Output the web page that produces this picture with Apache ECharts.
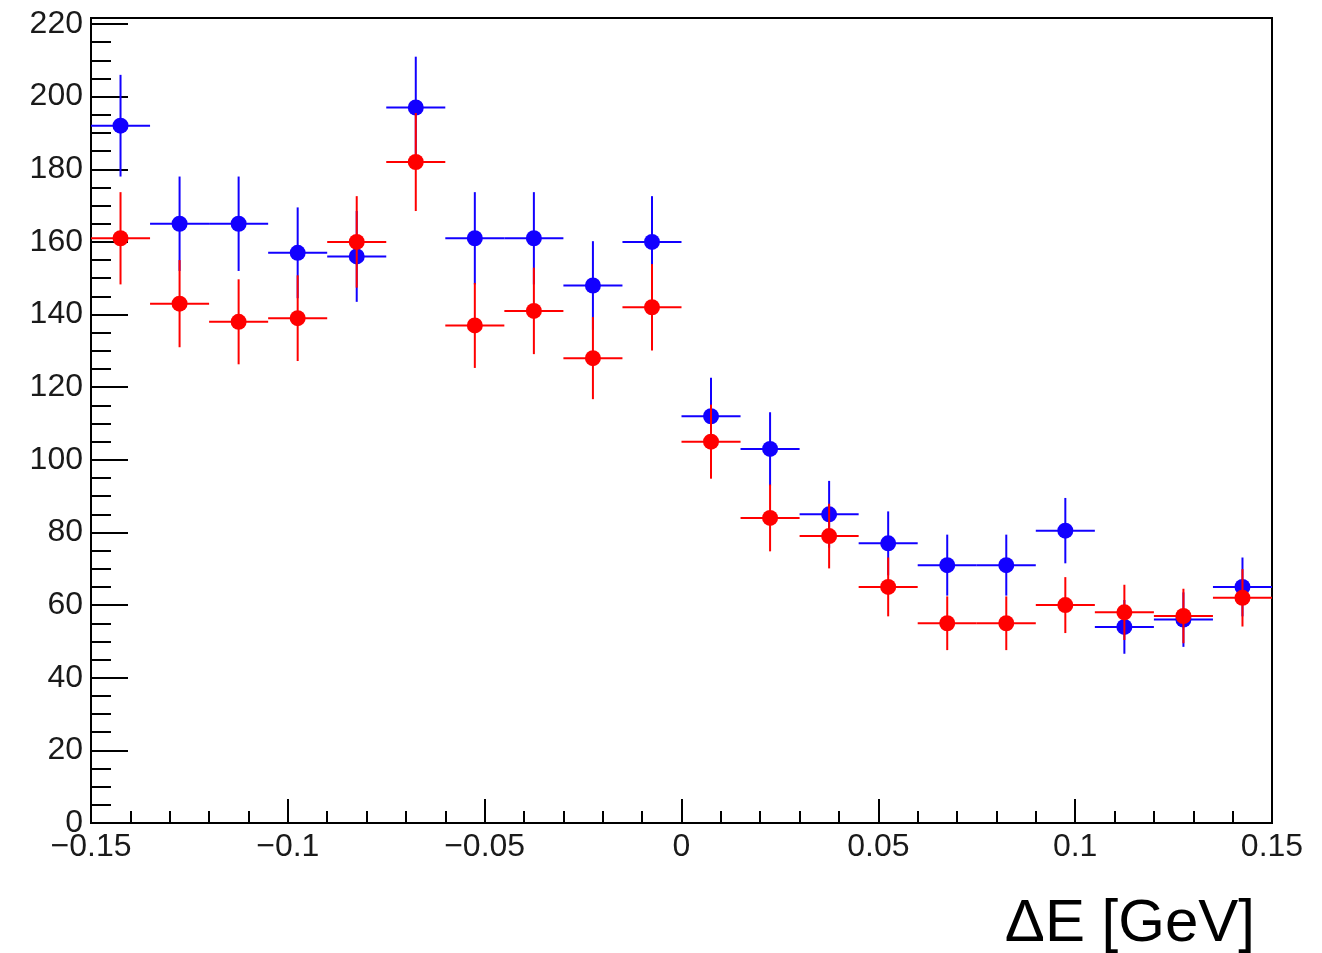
<!DOCTYPE html>
<html>
<head>
<meta charset="utf-8">
<script src="https://cdn.jsdelivr.net/npm/echarts@6/dist/echarts.min.js"></script>
<style>
html,body{margin:0;padding:0;background:#fff;}
#chart{width:1322px;height:953px;}
</style>
</head>
<body>
<div id="chart"></div>
<script>
// ---- data ----
const binCenters = [-0.1425, -0.1275, -0.1125, -0.0975, -0.0825, -0.0675, -0.0525, -0.0375, -0.0225, -0.0075,
                     0.0075,  0.0225,  0.0375,  0.0525,  0.0675,  0.0825,  0.0975,  0.1125,  0.1275,  0.1425];
const binWidth = 0.015;
const blueValues = [192, 165, 165, 157, 156, 197, 161, 161, 148, 160, 112, 103, 85, 77, 71, 71, 80.5, 54, 56, 65];
const blueErrors = [14, 13, 13, 12.5, 12.5, 14, 12.7, 12.7, 12.2, 12.6, 10.6, 10.1, 9.2, 8.8, 8.4, 8.4, 9, 7.4, 7.5, 8.1];
const redValues  = [161, 143, 138, 139, 160, 182, 137, 141, 128, 142, 105, 84, 79, 65, 55, 55, 60, 58, 57, 62];
const redErrors  = [12.7, 12, 11.7, 11.8, 12.6, 13.5, 11.7, 11.9, 11.3, 11.9, 10.2, 9.2, 8.9, 8.1, 7.4, 7.4, 7.7, 7.6, 7.5, 7.9];
const xTickLabels = ['−0.15', '−0.1', '−0.05', '0', '0.05', '0.1', '0.15'];
const yTickLabels = ['0','20','40','60','80','100','120','140','160','180','200','220'];
const axisTitle = 'ΔE [GeV]';

const BLUE = '#1200ff';
const RED = '#ff0000';

function pts(vals, errs) {
  return binCenters.map((x, i) => [x, vals[i], errs[i]]);
}

function errorSeries(name, vals, errs, color, z) {
  return {
    name: name,
    type: 'custom',
    xAxisIndex: 0, yAxisIndex: 0,
    z: z,
    data: pts(vals, errs),
    renderItem: function (params, api) {
      const x = api.value(0), y = api.value(1), e = api.value(2);
      const l = api.coord([x - binWidth / 2, y]);
      const r = api.coord([x + binWidth / 2, y]);
      const t = api.coord([x, y + e]);
      const b = api.coord([x, y - e]);
      const st = { stroke: color, lineWidth: 2 };
      return {
        type: 'group',
        children: [
          { type: 'line', shape: { x1: l[0], y1: l[1], x2: r[0], y2: r[1] }, style: st },
          { type: 'line', shape: { x1: t[0], y1: t[1], x2: b[0], y2: b[1] }, style: st }
        ]
      };
    }
  };
}

function dotSeries(name, vals, color, z) {
  return {
    name: name,
    type: 'scatter',
    xAxisIndex: 0, yAxisIndex: 0,
    z: z,
    symbol: 'circle',
    symbolSize: 16,
    itemStyle: { color: color, opacity: 1 },
    data: binCenters.map((x, i) => [x, vals[i]])
  };
}

const labelFont = { fontFamily: 'Liberation Sans', fontSize: 32, color: '#1a1a1a' };

const option = {
  animation: false,
  backgroundColor: '#ffffff',
  title: {
    text: axisTitle,
    right: 62,
    top: 889,
    textStyle: { fontFamily: 'Liberation Sans', fontSize: 60, fontWeight: 'normal', color: '#000' }
  },
  grid: [
    { left: 91, right: 50, top: 24, bottom: 130, containLabel: false },
    { left: 91, right: 50, top: 18, bottom: 130, show: true, borderColor: '#000', borderWidth: 2, backgroundColor: 'transparent' }
  ],
  xAxis: [
    {
      type: 'value', gridIndex: 0,
      min: -0.15, max: 0.15, interval: 0.05,
      axisLine: { show: true, onZero: false, lineStyle: { color: '#000', width: 2 } },
      axisTick: { show: true, inside: true, length: 24, lineStyle: { color: '#000', width: 2 } },
      minorTick: { show: true, splitNumber: 5, length: 12, lineStyle: { color: '#000', width: 2 } },
      splitLine: { show: false },
      axisLabel: Object.assign({
        margin: 8,
        showMinLabel: true, showMaxLabel: true,
        formatter: function (v) {
          const idx = Math.round((v + 0.15) / 0.05);
          return xTickLabels[idx] !== undefined ? xTickLabels[idx] : '';
        }
      }, labelFont)
    },
    { type: 'value', gridIndex: 1, show: false, min: 0, max: 1 }
  ],
  yAxis: [
    {
      type: 'value', gridIndex: 0,
      min: 0, max: 220, interval: 20,
      axisLine: { show: true, onZero: false, lineStyle: { color: '#000', width: 2 } },
      axisTick: { show: true, inside: true, length: 37, lineStyle: { color: '#000', width: 2 } },
      minorTick: { show: true, splitNumber: 4, length: 20, lineStyle: { color: '#000', width: 2 } },
      splitLine: { show: false },
      axisLabel: Object.assign({
        margin: 8,
        showMinLabel: true, showMaxLabel: true,
        formatter: function (v) {
          const idx = Math.round(v / 20);
          return yTickLabels[idx] !== undefined ? yTickLabels[idx] : '';
        }
      }, labelFont)
    },
    { type: 'value', gridIndex: 1, show: false, min: 0, max: 1 }
  ],
  series: [
    errorSeries('blueErr', blueValues, blueErrors, BLUE, 2),
    dotSeries('blue', blueValues, BLUE, 3),
    errorSeries('redErr', redValues, redErrors, RED, 4),
    dotSeries('red', redValues, RED, 5)
  ]
};

const chart = echarts.init(document.getElementById('chart'), null, { renderer: 'canvas' });
chart.setOption(option);
</script>
</body>
</html>
